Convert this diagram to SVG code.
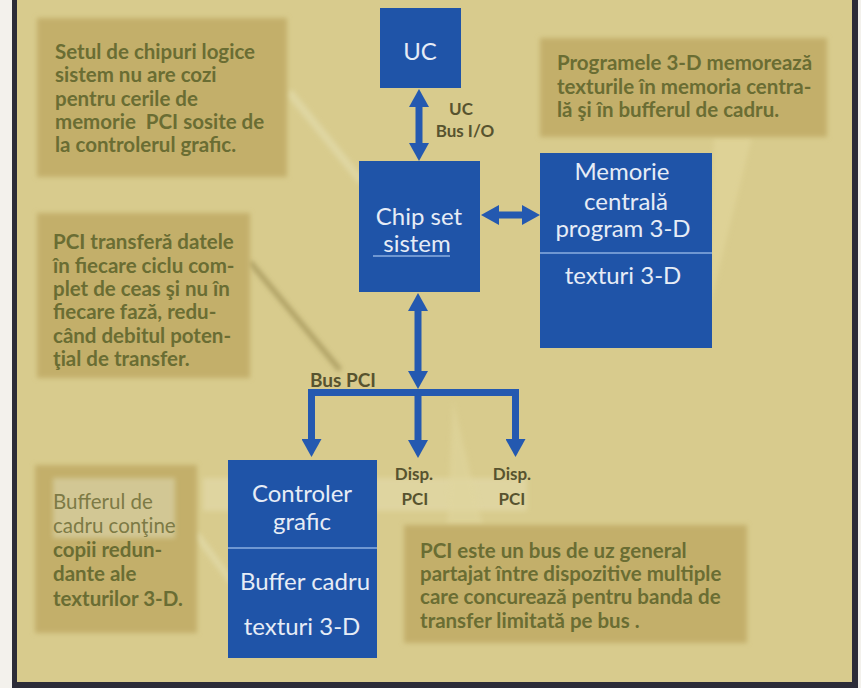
<svg xmlns="http://www.w3.org/2000/svg" width="861" height="688" viewBox="0 0 861 688">
  <defs>
    <filter id="soft" x="-10%" y="-10%" width="120%" height="120%">
      <feGaussianBlur stdDeviation="2.5"/>
    </filter>
    <marker id="head" viewBox="0 0 18 20" markerUnits="userSpaceOnUse" markerWidth="18" markerHeight="20" refX="8" refY="10" orient="auto-start-reverse">
      <path d="M0,0 L18,10 L0,20 z" fill="#2459b0"/>
    </marker>
    <style>
      .bg { fill: #d8cb8d; }
      .note { fill: #c3af6b; filter: url(#soft); }
      .ntxt { font-family: Lato, "Open Sans", sans-serif; font-weight: 700; font-size: 20.5px; fill: #6a6d33; }
      .faded { font-family: Lato, "Open Sans", sans-serif; font-weight: 400; font-size: 20.5px; fill: #7d7a45; }
      .lbl { font-family: Lato, "Open Sans", sans-serif; font-weight: 700; font-size: 19px; fill: #57532f; }
      .lbl2 { font-family: Lato, "Open Sans", sans-serif; font-weight: 700; font-size: 17px; fill: #57532f; text-anchor: middle; }
      .box { fill: #1f54a8; }
      .btxt { font-family: Lato, "Open Sans", sans-serif; font-weight: 400; font-size: 24px; fill: #e6ecf6; text-anchor: middle; }
      .div { stroke: #6f97d2; stroke-width: 2; }
      .wire { fill: none; stroke: #2459b0; stroke-width: 7; stroke-linejoin: miter; }
    </style>
  </defs>

  <!-- page background and frame -->
  <rect x="0" y="0" width="861" height="688" fill="#f3f1ec"/>
  <rect x="17" y="0" width="835" height="682" class="bg"/>
  <rect x="12" y="0" width="5" height="688" fill="#2c2c38"/>
  <rect x="852" y="0" width="6" height="688" fill="#2c2c38"/>
  <rect x="12" y="682" width="846" height="6" fill="#2c2c38"/>

  <!-- pale strip behind the device labels -->
  <rect x="203" y="478" width="324" height="33" fill="#e4dcae" opacity="0.6" filter="url(#soft)"/>

  <!-- note pointers -->
  <g id="pointers">
    <line x1="289" y1="92" x2="362" y2="182" stroke="#e2dbab" stroke-width="8" opacity="0.7" filter="url(#soft)"/>
    <line x1="250" y1="262" x2="340" y2="370" stroke="#9c8e52" stroke-width="5" opacity="0.75" filter="url(#soft)"/>
    <polygon points="714,137 752,137 707,318" fill="#e2d79c" opacity="0.6" filter="url(#soft)"/>
    <polygon points="453,400 447,525 483,525" fill="#e0d69e" opacity="0.6" filter="url(#soft)"/>
    <line x1="196" y1="534" x2="232" y2="582" stroke="#e2dbab" stroke-width="7" opacity="0.7" filter="url(#soft)"/>
  </g>

  <!-- callout notes -->
  <g id="note-chipset">
    <rect x="37" y="18" width="250" height="159" class="note"/>
    <text class="ntxt" x="55" y="59">Setul de chipuri logice</text>
    <text class="ntxt" x="55" y="82">sistem nu are cozi</text>
    <text class="ntxt" x="55" y="105.5">pentru cerile de</text>
    <text class="ntxt" x="55" y="129" xml:space="preserve">memorie  PCI sosite de</text>
    <text class="ntxt" x="55" y="152">la controlerul grafic.</text>
  </g>

  <g id="note-programs">
    <rect x="540" y="38" width="287" height="99" class="note"/>
    <text class="ntxt" x="557" y="70" font-size="19.3">Programele 3-D memorează</text>
    <text class="ntxt" x="557" y="93.5" font-size="19.3">texturile în memoria centra-</text>
    <text class="ntxt" x="557" y="117" font-size="19.3">lă şi în bufferul de cadru.</text>
  </g>

  <g id="note-transfer">
    <rect x="37" y="213" width="213" height="165" class="note"/>
    <text class="ntxt" x="53" y="249" font-size="20">PCI transferă datele</text>
    <text class="ntxt" x="53" y="272.5" font-size="20">în fiecare ciclu com-</text>
    <text class="ntxt" x="53" y="296" font-size="20">plet de ceas şi nu în</text>
    <text class="ntxt" x="53" y="319" font-size="20">fiecare fază, redu-</text>
    <text class="ntxt" x="53" y="342.5" font-size="20">când debitul poten-</text>
    <text class="ntxt" x="53" y="366" font-size="20">ţial de transfer.</text>
  </g>

  <g id="note-framebuffer">
    <rect x="35" y="465" width="162" height="168" class="note"/>
    <rect x="53" y="478" width="122" height="60" fill="#d9d2a6" opacity="0.7" filter="url(#soft)"/>
    <text class="faded" x="53" y="509">Bufferul de</text>
    <text class="faded" x="53" y="533">cadru conţine</text>
    <text class="ntxt" x="53" y="557">copii redun-</text>
    <text class="ntxt" x="53" y="581">dante ale</text>
    <text class="ntxt" x="53" y="606">texturilor 3-D.</text>
  </g>

  <g id="note-bus">
    <rect x="404" y="525" width="343" height="118" class="note"/>
    <text class="ntxt" x="420" y="558">PCI este un bus de uz general</text>
    <text class="ntxt" x="420" y="581">partajat între dispozitive multiple</text>
    <text class="ntxt" x="420" y="604">care concurează pentru banda de</text>
    <text class="ntxt" x="420" y="628">transfer limitată pe bus .</text>
  </g>

  <!-- connectors -->
  <g id="connectors">
    <line class="wire" x1="419" y1="99" x2="419" y2="151" stroke-width="6" marker-start="url(#head)" marker-end="url(#head)"/>
    <line class="wire" x1="491" y1="215" x2="530" y2="215" stroke-width="6" marker-start="url(#head)" marker-end="url(#head)"/>
    <line class="wire" x1="418" y1="303" x2="418" y2="379" stroke-width="6" marker-start="url(#head)" marker-end="url(#head)"/>
    <path class="wire" d="M311.5,447 V392.5 H515.5 V447" marker-start="url(#head)" marker-end="url(#head)"/>
    <path class="wire" d="M418,392 V448" stroke-width="6" marker-end="url(#head)"/>
  </g>

  <!-- connector labels -->
  <g id="labels">
    <text class="lbl2" x="461" y="115" font-size="19">UC</text>
    <text class="lbl2" x="465" y="137" font-size="19">Bus I/O</text>
    <text class="lbl" x="310" y="387">Bus PCI</text>
  </g>

  <!-- nodes -->
  <g id="uc">
    <rect x="380" y="8" width="81" height="80" class="box"/>
    <text class="btxt" x="420" y="60">UC</text>
  </g>

  <g id="chipset">
    <rect x="359" y="161" width="121" height="131" class="box"/>
    <text class="btxt" x="419" y="225">Chip set</text>
    <text class="btxt" x="417" y="252">sistem</text>
    <line x1="373" y1="256" x2="450" y2="256" class="div"/>
  </g>

  <g id="memorie">
    <rect x="540" y="153" width="172" height="195" class="box"/>
    <line x1="540" y1="253" x2="712" y2="253" class="div"/>
    <text class="btxt" x="622" y="180">Memorie</text>
    <text class="btxt" x="626" y="210" font-size="23">centrală</text>
    <text class="btxt" x="623" y="237" font-size="23.5">program 3-D</text>
    <text class="btxt" x="623" y="284">texturi 3-D</text>
  </g>

  <g id="controler">
    <rect x="228" y="460" width="149" height="198" class="box"/>
    <line x1="228" y1="548" x2="377" y2="548" class="div"/>
    <text class="btxt" x="302" y="502">Controler</text>
    <text class="btxt" x="302" y="530">grafic</text>
    <text class="btxt" x="305" y="590">Buffer cadru</text>
    <text class="btxt" x="302" y="635">texturi 3-D</text>
  </g>

  <g id="disp1">
    <text class="lbl2" x="414" y="480">Disp.</text>
    <text class="lbl2" x="415" y="505">PCI</text>
  </g>

  <g id="disp2">
    <text class="lbl2" x="512" y="480">Disp.</text>
    <text class="lbl2" x="512" y="505">PCI</text>
  </g>
</svg>
